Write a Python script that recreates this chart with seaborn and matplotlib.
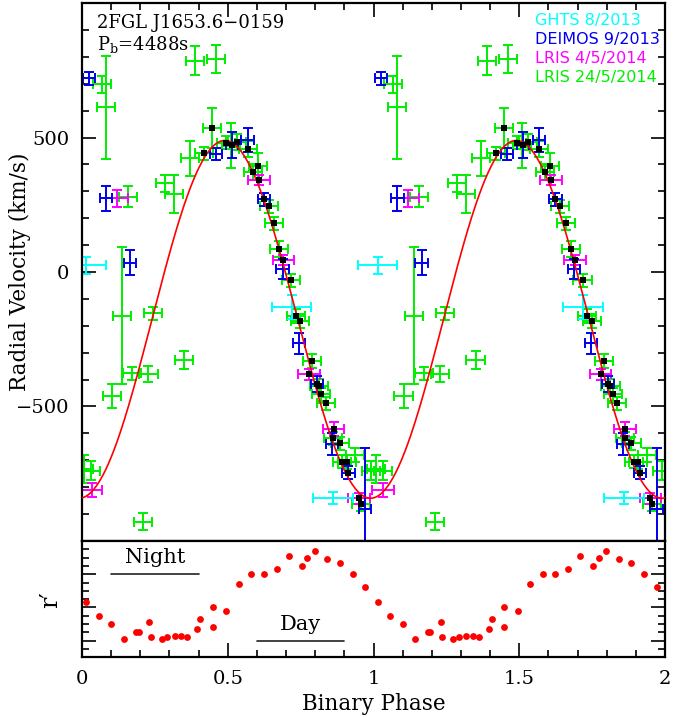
import numpy as np
import pandas as pd
import seaborn as sns
import matplotlib.pyplot as plt
from matplotlib.ticker import MultipleLocator, FixedLocator, FuncFormatter

# GHTS 8/2013 (cyan)
ghts_phase = [0.014, 0.719, 0.860]
ghts_vel = [25, -129, -839]
ghts_verr = [31, 45, 22]
ghts_perr = 0.068

# DEIMOS 9/2013 (blue)
deimos_phase = [0.025, 0.082, 0.165, 0.459, 0.514, 0.568, 0.624, 0.688,
                0.745, 0.805, 0.857, 0.914, 0.971]
deimos_vel = [720, 274, 35, 439, 472, 491, 270, 11, -265, -418, -639, -746, -880]
deimos_verr = [25, 47, 45, 22, 50, 46, 25, 37, 40, 30, 40, 25, 227]
deimos_perr = 0.021

# LRIS 4/5/2014 (magenta)
lris1_phase = [0.033, 0.119, 0.608, 0.691, 0.779, 0.863, 0.950]
lris1_vel = [-810, 274, 342, 45, -380, -584, -841]
lris1_verr = [27, 32, 20, 20, 20, 25, 20]
lris1_perr = 0.037

# LRIS 24/5/2014 (green)
lris2_phase = [0.007, 0.031, 0.068, 0.082, 0.103, 0.138, 0.157, 0.173, 0.210,
               0.228, 0.245, 0.285, 0.316, 0.350, 0.369, 0.388, 0.420, 0.447,
               0.460, 0.493, 0.510, 0.531, 0.568, 0.588, 0.605, 0.641, 0.660,
               0.676, 0.717, 0.734, 0.748, 0.790, 0.813, 0.821, 0.836, 0.862,
               0.885, 0.893, 0.908, 0.937, 0.957, 0.991]
lris2_vel = [-733, -739, 698, 612, -461, -162, 280, -377, -928,
             -380, -154, 330, 290, -327, 422, 786, 441, 534,
             792, 481, 470, 482, 456, 371, 393, 244, 181,
             85, -31, -164, -183, -331, -424, -455, -488, -618,
             -637, -705, -707, -680, -864, -739]
lris2_verr = [53, 35, 31, 191, 43, 256, 38, 25, 31,
              29, 25, 31, 71, 35, 66, 55, 25, 74,
              53, 25, 84, 30, 30, 30, 50, 25, 25,
              31, 25, 25, 25, 25, 25, 25, 25, 25,
              25, 25, 25, 25, 25, 35]
lris2_perr = 0.031

# points marked with black squares
sq_phase = [0.420, 0.447, 0.493, 0.513, 0.531, 0.568, 0.588, 0.605, 0.608, 0.624,
            0.641, 0.660, 0.676, 0.691, 0.717, 0.734, 0.748, 0.779, 0.790, 0.805,
            0.813, 0.821, 0.836, 0.862, 0.863, 0.885, 0.893, 0.908, 0.914, 0.950,
            0.957]
sq_vel = [441, 534, 481, 472, 482, 456, 371, 393, 342, 270,
          244, 181, 85, 45, -31, -164, -183, -380, -331, -418,
          -424, -455, -488, -618, -584, -637, -705, -707, -746, -841,
          -864]

# sinusoidal fit
GAMMA = -176.0
K_AMP = 665.0
PHASE_MIN = 0.99

# r' light curve (relative magnitude)
lc_phase = [0.015, 0.057, 0.101, 0.144, 0.186, 0.194, 0.230, 0.236, 0.274, 0.293,
            0.318, 0.341, 0.361, 0.396, 0.406, 0.449, 0.449, 0.495, 0.538, 0.581,
            0.624, 0.668, 0.710, 0.754, 0.773, 0.798, 0.841, 0.885, 0.929, 0.971]
lc_mag = [0.185, 0.225, 0.250, 0.295, 0.275, 0.275, 0.245, 0.290, 0.295, 0.290,
          0.285, 0.285, 0.290, 0.265, 0.235, 0.200, 0.260, 0.210, 0.130, 0.100,
          0.100, 0.085, 0.045, 0.075, 0.050, 0.030, 0.055, 0.065, 0.100, 0.140]


def two_cycles(phase, *cols):
    p = np.asarray(phase, dtype=float)
    out = [np.concatenate([p, p + 1.0])]
    for c in cols:
        c = np.asarray(c, dtype=float)
        out.append(np.concatenate([c, c]))
    return out


sns.set_theme(style='ticks')
plt.rcParams['font.family'] = ['DejaVu Serif']
plt.rcParams['mathtext.fontset'] = 'dejavuserif'
plt.rcParams['axes.linewidth'] = 1.6
for key in ['text.color', 'axes.labelcolor', 'axes.edgecolor',
            'xtick.color', 'ytick.color']:
    plt.rcParams[key] = 'black'

fig = plt.figure(figsize=(6.94, 7.17), dpi=100)
ax = fig.add_axes([0.1182, 0.2455, 0.840, 0.7503])
ax2 = fig.add_axes([0.1182, 0.0833, 0.840, 0.1622])

datasets = [
    ('LRIS 24/5/2014', lris2_phase, lris2_vel, lris2_verr, lris2_perr, '#00ee00'),
    ('LRIS 4/5/2014', lris1_phase, lris1_vel, lris1_verr, lris1_perr, '#ff00ff'),
    ('DEIMOS 9/2013', deimos_phase, deimos_vel, deimos_verr, deimos_perr, '#0000ee'),
    ('GHTS 8/2013', ghts_phase, ghts_vel, ghts_verr, ghts_perr, '#00ffff'),
]
for name, ph, v, ve, pe, col in datasets:
    p2, v2, ve2 = two_cycles(ph, v, ve)
    ax.errorbar(p2, v2, xerr=pe, yerr=ve2, fmt='none', ecolor=col,
                elinewidth=1.4, capsize=3.5, capthick=1.4, zorder=2)

model = pd.DataFrame({'phase': np.linspace(0, 2, 400)})
model['vel'] = GAMMA - K_AMP * np.cos(2 * np.pi * (model['phase'] - PHASE_MIN))
sns.lineplot(data=model, x='phase', y='vel', color='red', linewidth=1.2,
             estimator=None, ax=ax, zorder=3)

sp, sv = two_cycles(sq_phase, sq_vel)
sns.scatterplot(x=sp, y=sv, marker='s', color='black', s=18, linewidth=0,
                ax=ax, zorder=4)

ax.set_xlim(0, 2)
ax.set_ylim(-1000, 1000)
ax.yaxis.set_major_locator(FixedLocator([-500, 0, 500]))
ax.yaxis.set_minor_locator(MultipleLocator(100))
ax.xaxis.set_major_locator(MultipleLocator(0.5))
ax.xaxis.set_minor_locator(MultipleLocator(0.1))
ax.tick_params(which='both', direction='in', top=True, right=True, bottom=False,
               labelbottom=False, width=1.2, labelsize=14, pad=9)
ax.tick_params(which='major', length=10)
ax.tick_params(which='minor', length=5)
ax.set_xlabel('')
ax.set_ylabel('Radial Velocity (km/s)', fontsize=15.5)
ax.yaxis.set_label_coords(-0.088, 0.5)

ax.text(0.026, 0.953, '2FGL J1653.6\u22120159', transform=ax.transAxes,
        fontsize=13, va='baseline')
ax.text(0.026, 0.913, r'P$_{\rm b}$=4488s', transform=ax.transAxes,
        fontsize=13, va='baseline')
legend_y = [0.959, 0.923, 0.889, 0.854]
for (name, *_rest, col), yy in zip(datasets[::-1], legend_y):
    ax.text(0.777, yy, name, transform=ax.transAxes, color=col, fontsize=11.5,
            family='DejaVu Sans', va='baseline')

lp, lm = two_cycles(lc_phase, lc_mag)
sns.scatterplot(x=lp, y=lm, color='red', s=24, linewidth=0, ax=ax2, zorder=3)

ax2.plot([0.1, 0.4], [0.1, 0.1], color='#222222', linewidth=1.2)
ax2.plot([0.6, 0.9], [0.3, 0.3], color='#222222', linewidth=1.2)
ax2.text(0.25, 0.067, 'Night', ha='center', va='baseline', fontsize=15)
ax2.text(0.75, 0.267, 'Day', ha='center', va='baseline', fontsize=15)

ax2.set_xlim(0, 2)
ax2.set_ylim(0.35, 0.0)
ax2.yaxis.set_major_locator(MultipleLocator(0.1))
ax2.yaxis.set_minor_locator(MultipleLocator(0.025))
ax2.xaxis.set_major_locator(MultipleLocator(0.5))
ax2.xaxis.set_minor_locator(MultipleLocator(0.1))
ax2.xaxis.set_major_formatter(FuncFormatter(lambda x, pos: f'{x:g}'))
ax2.tick_params(which='both', direction='in', top=False, right=True,
                labelleft=False, width=1.2, labelsize=14, pad=9)
ax2.tick_params(which='major', length=10)
ax2.tick_params(which='minor', length=5)
ax2.set_xlabel('Binary Phase', fontsize=15.5)
ax2.set_ylabel('r\u2032', fontsize=17)
ax2.yaxis.set_label_coords(-0.035, 0.5)

fig.savefig('out.png', dpi=100)
